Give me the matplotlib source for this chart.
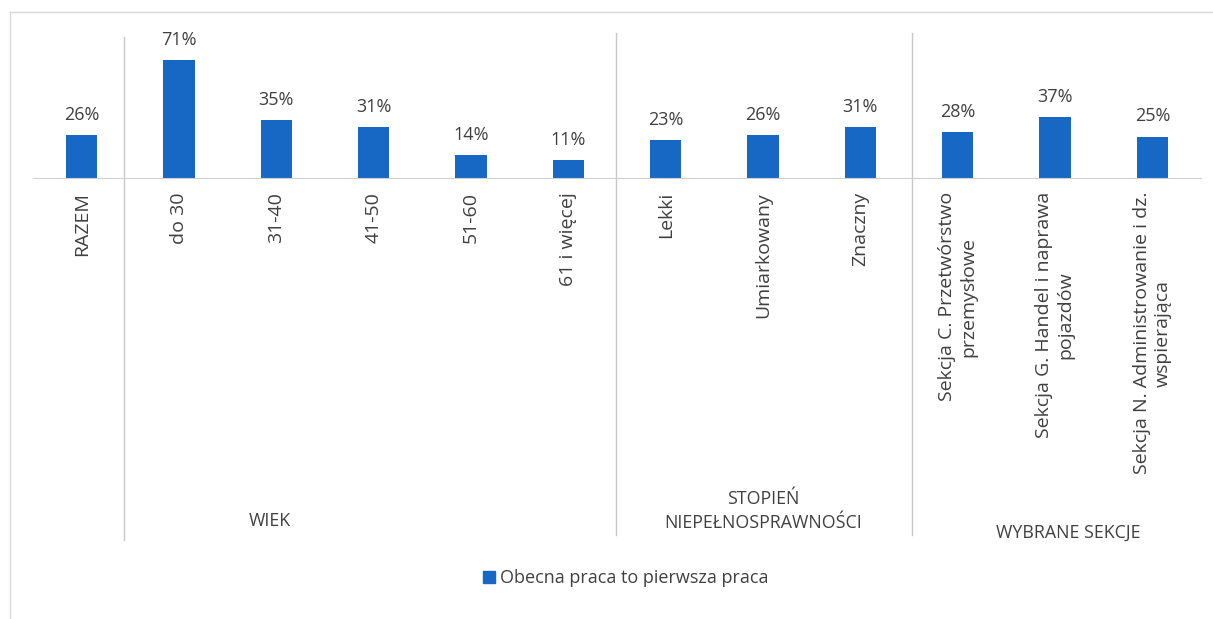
import matplotlib.pyplot as plt
from matplotlib.lines import Line2D
from matplotlib.patches import Patch
import matplotlib.transforms as mtransforms

categories = ['RAZEM', 'do 30', '31-40', '41-50', '51-60', '61 i więcej',
              'Lekki', 'Umiarkowany', 'Znaczny',
              'Sekcja C. Przetwórstwo\nprzemysłowe',
              'Sekcja G. Handel i naprawa\npojazdów',
              'Sekcja N. Administrowanie i dz.\nwspierająca']
values = [26, 71, 35, 31, 14, 11, 23, 26, 31, 28, 37, 25]
groups = ['WIEK', 'STOPIEŃ\nNIEPEŁNOSPRAWNOŚCI', 'WYBRANE SEKCJE']
series_name = 'Obecna praca to pierwsza praca'

W, H = 1213, 619
blue = '#1668c4'
txt = '#404040'
plt.rcParams['font.family'] = ['Open Sans', 'DejaVu Sans']

fig = plt.figure(figsize=(W / 100, H / 100), dpi=100)
# axes: x from 33 to 1201 px, y from 30 (top) to 178 (baseline)
ax = fig.add_axes([33 / W, 1 - 178 / H, 1168 / W, 148 / H])
x = list(range(len(categories)))
ax.bar(x, values, width=0.32, color=blue, zorder=2)
ax.set_xlim(-0.5, 11.5)
ax.set_ylim(0, 89.4)
for s in ['top', 'right', 'left']:
    ax.spines[s].set_visible(False)
ax.spines['bottom'].set_color('#d0d0d0')
ax.set_yticks([])
ax.set_xticks([])

for xi, v in zip(x, values):
    ax.annotate(f'{v}%', (xi, v), xytext=(0, 14.5), textcoords='offset points',
                ha='center', va='center', fontsize=13, color=txt)

# category labels, rotated, just below the axis
off = mtransforms.offset_copy(ax.get_xaxis_transform(), fig=fig, x=0, y=-14, units='dots')
for xi, c in zip(x, categories):
    ax.text(xi, 0, c, transform=off, rotation=90, ha='center', va='top',
            ma='center', fontsize=14, color=txt, linespacing=1.25)

# group separators
sep_tr = mtransforms.blended_transform_factory(ax.transData, fig.transFigure)
for sx, y0, y1 in [(0.43, 540, 37), (5.49, 535, 33), (8.53, 535, 33)]:
    ax.add_line(Line2D([sx, sx], [1 - y0 / H, 1 - y1 / H], transform=sep_tr,
                       color='#c8c8c8', lw=1, clip_on=False))

# group labels
fig.text(270 / W, 1 - 521 / H, groups[0], ha='center', va='center', fontsize=12.8, color=txt)
fig.text(763 / W, 1 - 511 / H, groups[1], ha='center', va='center', fontsize=12.8,
         color=txt, linespacing=1.45)
fig.text(1068 / W, 1 - 533 / H, groups[2], ha='center', va='center', fontsize=12.8, color=txt)

# legend
fig.legend(handles=[Patch(color=blue, label=series_name)], loc='center',
           bbox_to_anchor=(626 / W, 1 - 578 / H), frameon=False, fontsize=13,
           handlelength=0.65, handleheight=0.65, handletextpad=0.3, labelcolor=txt)

# chart-area border (top and left visible)
fig.add_artist(Line2D([10 / W, 1], [1 - 12 / H, 1 - 12 / H], color='#d9d9d9', lw=1))
fig.add_artist(Line2D([10 / W, 10 / W], [0, 1 - 12 / H], color='#d9d9d9', lw=1))

fig.savefig('out.png', dpi=100)
